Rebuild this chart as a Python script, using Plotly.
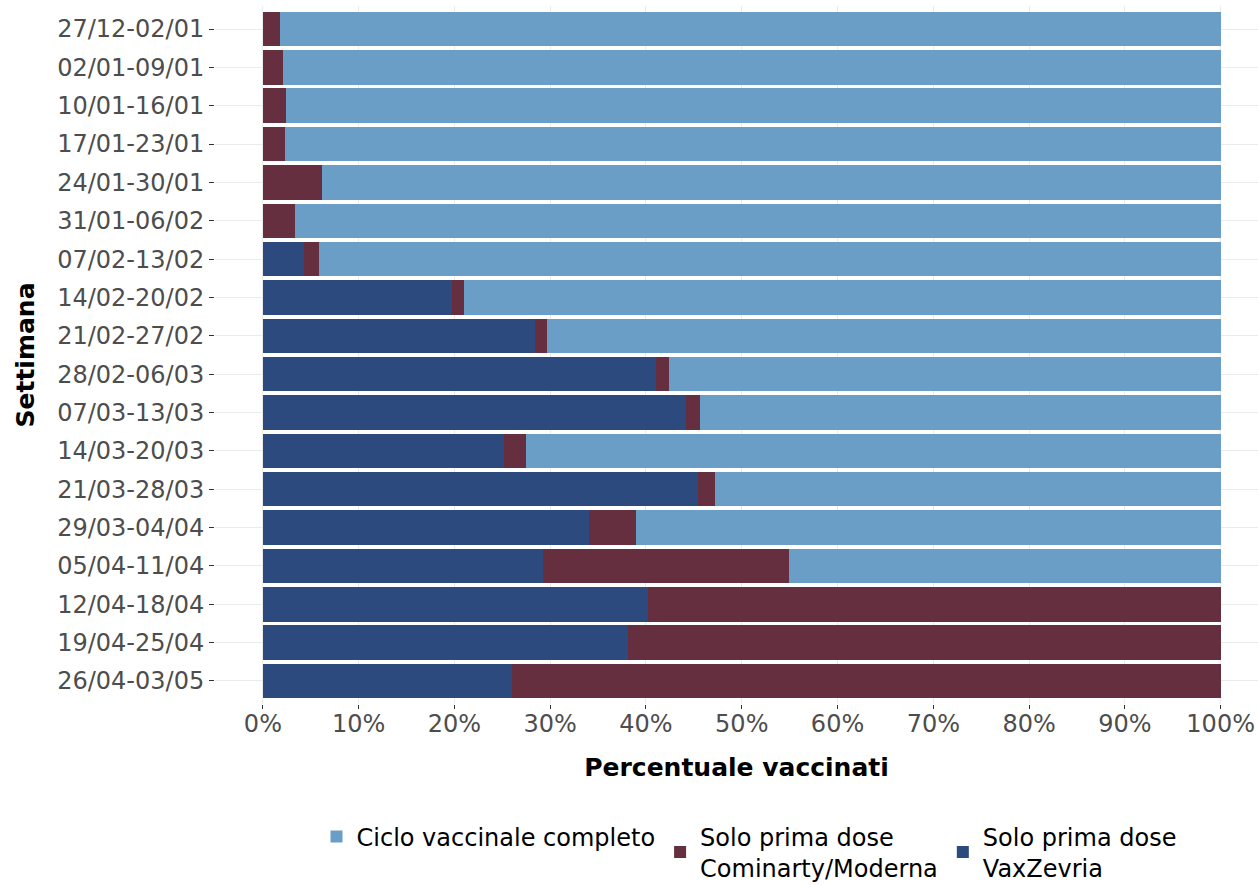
import plotly.graph_objects as go

settimane = ["27/12-02/01", "02/01-09/01", "10/01-16/01", "17/01-23/01", "24/01-30/01",
             "31/01-06/02", "07/02-13/02", "14/02-20/02", "21/02-27/02", "28/02-06/03",
             "07/03-13/03", "14/03-20/03", "21/03-28/03", "29/03-04/04", "05/04-11/04",
             "12/04-18/04", "19/04-25/04", "26/04-03/05"]

vaxzevria = [0, 0, 0, 0, 0, 0, 4.3, 19.7, 28.4, 41.0, 44.2, 25.2, 45.4, 34.1, 29.2, 40.2, 38.1, 26.0]
cominarty_moderna = [1.8, 2.1, 2.4, 2.3, 6.2, 3.4, 1.6, 1.3, 1.3, 1.4, 1.4, 2.3, 1.8, 4.9, 25.7, 59.8, 61.9, 74.0]
ciclo_completo = [98.2, 97.9, 97.6, 97.7, 93.8, 96.6, 94.1, 79.0, 70.3, 57.6, 54.4, 72.5, 52.8, 61.0, 45.1, 0, 0, 0]

series = [
    ("Solo prima dose<br>VaxZevria", vaxzevria, "#2C4A7E"),
    ("Solo prima dose<br>Cominarty/Moderna", cominarty_moderna, "#652F40"),
    ("Ciclo vaccinale completo", ciclo_completo, "#6A9EC6"),
]

fig = go.Figure()
for name, vals, col in series:
    fig.add_trace(go.Bar(
        y=settimane, x=vals, name=name, orientation="h",
        marker=dict(color=col, line=dict(width=0)),
    ))

tick_font = dict(family="DejaVu Sans", size=24, color="#4D4D4D")
title_font = dict(family="DejaVu Sans", size=25, color="black", weight="bold")

fig.update_layout(
    barmode="stack",
    bargap=0.1,
    width=1258, height=886,
    margin=dict(l=215, r=0, t=6, b=182, autoexpand=False),
    plot_bgcolor="white", paper_bgcolor="white",
    font=dict(family="DejaVu Sans"),
    legend=dict(
        orientation="h", traceorder="reversed",
        x=0.512, xanchor="center", y=-0.158, yanchor="top",
        font=dict(family="DejaVu Sans", size=24, color="black"),
        itemsizing="constant", valign="middle",
    ),
)
fig.update_xaxes(
    range=[-5.0, 103.9], tickvals=list(range(0, 101, 10)),
    ticktext=[f"{v}%" for v in range(0, 101, 10)],
    showgrid=True, gridcolor="#EBEBEB", gridwidth=1, zeroline=False,
    ticks="outside", ticklen=4, tickcolor="#333333",
    tickfont=tick_font, automargin=False, ticklabelstandoff=-6,
    title=dict(text="Percentuale vaccinati", font=title_font, standoff=21),
)
fig.update_yaxes(
    categoryorder="array", categoryarray=settimane,
    range=[17.6, -0.6],
    showgrid=True, gridcolor="#EBEBEB", gridwidth=1,
    ticks="outside", ticklen=5, tickcolor="#333333",
    tickfont=tick_font, automargin=False,
    title=dict(text="Settimana", font=title_font, standoff=15),
)

fig.write_html(
    "out.html",
    config={"displayModeBar": False},
    post_script="document.body.style.margin='0';document.body.style.overflow='hidden';",
)
